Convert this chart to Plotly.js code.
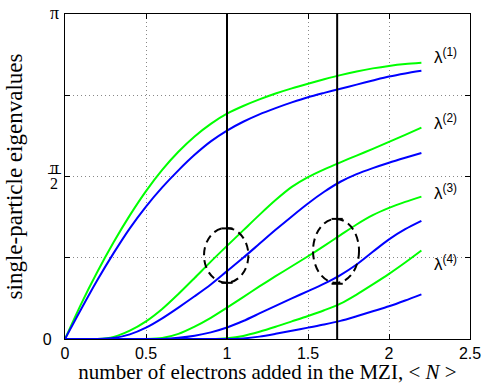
<!DOCTYPE html>
<html>
<head>
<meta charset="utf-8">
<script src="https://cdn.plot.ly/plotly-3.0.1.min.js"></script>
<style>html,body{margin:0;padding:0;background:#fff;}</style>
</head>
<body>
<div id="chart" style="width:490px;height:384px;"></div>
<script>
// x grid (number of electrons added)
const xGrid = [0,0.1,0.2,0.3,0.4,0.5,0.6,0.7,0.8,0.9,1.0,1.1,1.2,1.3,1.4,1.5,1.6,1.7,1.8,1.9,2.0,2.1,2.2];
// green curves
const green1 = [0,0.34,0.65,0.935,1.195,1.43,1.635,1.81,1.958,2.08,2.178,2.252,2.316,2.373,2.423,2.468,2.511,2.551,2.586,2.616,2.64,2.658,2.67];
const green2 = [0,0,0,0.02,0.08,0.17,0.29,0.435,0.59,0.748,0.90,1.05,1.20,1.343,1.47,1.565,1.64,1.708,1.773,1.838,1.905,1.973,2.043];
const green3 = [0,0,0,0,0,0,0.01,0.05,0.12,0.205,0.303,0.405,0.508,0.607,0.703,0.80,0.90,1.004,1.107,1.197,1.267,1.325,1.376];
const green4 = [0,0,0,0,0,0,0,0,0,0,0.008,0.03,0.07,0.118,0.17,0.222,0.278,0.342,0.43,0.528,0.63,0.74,0.856];
// blue curves
const blue1 = [0,0.29,0.57,0.83,1.07,1.28,1.465,1.63,1.78,1.91,2.015,2.10,2.172,2.232,2.287,2.337,2.379,2.419,2.459,2.499,2.537,2.567,2.592];
const blue2 = [0,0,0,0.01,0.045,0.11,0.2,0.304,0.413,0.527,0.656,0.785,0.92,1.055,1.185,1.31,1.423,1.52,1.594,1.652,1.704,1.752,1.798];
const blue3 = [0,0,0,0,0,0,0.001,0.011,0.031,0.064,0.111,0.174,0.247,0.321,0.393,0.463,0.535,0.618,0.72,0.843,0.963,1.061,1.141];
const blue4 = [0,0,0,0,0,0,0,0,0,0,0,0.006,0.023,0.05,0.08,0.11,0.14,0.175,0.22,0.268,0.316,0.372,0.432];
// curve labels
const labelText = ['λ<sup>(1)</sup>','λ<sup>(2)</sup>','λ<sup>(3)</sup>','λ<sup>(4)</sup>'];
const labelY = [2.74, 2.10, 1.42, 0.73];
const labelX = 2.265;
// vertical marker lines
const markerX = [1.0, 1.68];
const markerYRange = [0, Math.PI];
// caps on marker lines
const capX = [1.0, 1.0, 1.68, 1.68];
const capY = [1.069, 0.543, 1.161, 0.534];
// dashed ellipses
const ellCx = [0.995, 1.673];
const ellCy = [0.809, 0.852];
const ellRx = [0.137, 0.142];
const ellRy = [0.265, 0.309];
// ticks
const xTickVals = [0,0.5,1,1.5,2,2.5];
const xTickText = ['0','0.5','1','1.5','2','2.5'];
const yTickVals = [0];
const yTickText = ['0&nbsp;&nbsp;'];
const yMinorVals = [Math.PI/4, Math.PI/2, 3*Math.PI/4];
// pi-based y tick labels drawn as text
const piTopLabel = 'π';
const piHalfNum = 'π';
const piHalfBar = '—';
const piHalfDen = '2';

const GREEN = '#00ff00', BLUE = '#0000ff';
const traces = [];
[green1, green2, green3, green4].forEach(ys => traces.push({
  x: xGrid, y: ys, type: 'scatter', mode: 'lines',
  line: {color: GREEN, width: 2, shape: 'spline', smoothing: 0.8},
  hoverinfo: 'skip', showlegend: false
}));
[blue1, blue2, blue3, blue4].forEach(ys => traces.push({
  x: xGrid, y: ys, type: 'scatter', mode: 'lines',
  line: {color: BLUE, width: 2, shape: 'spline', smoothing: 0.8},
  hoverinfo: 'skip', showlegend: false
}));
markerX.forEach(xv => traces.push({
  x: [xv, xv], y: markerYRange, type: 'scatter', mode: 'lines',
  line: {color: 'black', width: 2}, hoverinfo: 'skip', showlegend: false
}));
traces.push({
  x: capX, y: capY, type: 'scatter', mode: 'markers',
  marker: {symbol: 'line-ew', size: 8, line: {color: 'black', width: 2}},
  hoverinfo: 'skip', showlegend: false
});

const shapes = ellCx.map((cx, i) => ({
  type: 'circle', xref: 'x', yref: 'y',
  x0: cx - ellRx[i], x1: cx + ellRx[i], y0: ellCy[i] - ellRy[i], y1: ellCy[i] + ellRy[i],
  line: {color: 'black', width: 2, dash: '8px,5px'}
}));

const annotations = labelText.map((t, i) => ({
  x: labelX, y: labelY[i], xref: 'x', yref: 'y', text: t, showarrow: false,
  xanchor: 'left', yanchor: 'middle',
  font: {family: 'Liberation Sans, Arial, sans-serif', size: 17, color: 'black'}
}));
const piFont = {family: 'Liberation Serif, serif', size: 18, color: 'black'};
annotations.push({x: -0.026, y: 1.0, xref: 'paper', yref: 'paper', text: piTopLabel, showarrow: false,
  xanchor: 'center', yanchor: 'middle', yshift: 1, font: piFont});
annotations.push({x: -0.026, y: 0.527, xref: 'paper', yref: 'paper', text: piHalfNum, showarrow: false,
  xanchor: 'center', yanchor: 'middle', font: piFont});
annotations.push({x: -0.026, y: 0.511, xref: 'paper', yref: 'paper', text: piHalfBar, showarrow: false,
  xanchor: 'center', yanchor: 'middle',
  font: {family: 'Liberation Sans, Arial, sans-serif', size: 13, color: 'black'}});
annotations.push({x: -0.026, y: 0.478, xref: 'paper', yref: 'paper', text: piHalfDen, showarrow: false,
  xanchor: 'center', yanchor: 'middle',
  font: {family: 'Liberation Serif, serif', size: 16, color: 'black'}});

const gridStyle = {gridcolor: '#888', gridwidth: 1, griddash: '1px,3px'};

const layout = {
  width: 490, height: 384,
  margin: {l: 65, r: 20, t: 14, b: 45},
  paper_bgcolor: 'white', plot_bgcolor: 'white',
  showlegend: false,
  xaxis: Object.assign({
    range: [0, 2.5], tickvals: xTickVals, ticktext: xTickText,
    ticks: 'inside', ticklen: 5, tickwidth: 1, tickcolor: 'black',
    showline: true, linecolor: 'black', linewidth: 1.2, mirror: 'ticks',
    showgrid: true, zeroline: false, layer: 'below traces',
    tickfont: {family: 'Liberation Sans, Arial, sans-serif', size: 16, color: 'black'},
    title: {text: 'number of electrons added in the MZI, &lt; <i>N</i> &gt;', standoff: 8,
      font: {family: 'Liberation Serif, serif', size: 21, color: 'black'}}
  }, gridStyle),
  yaxis: Object.assign({
    range: [0, Math.PI], tickvals: yTickVals, ticktext: yTickText,
    ticks: 'inside', ticklen: 5, tickwidth: 1, tickcolor: 'black',
    showline: true, linecolor: 'black', linewidth: 1.2, mirror: 'ticks',
    showgrid: true, zeroline: false, layer: 'below traces',
    minor: Object.assign({tickvals: yMinorVals, ticks: 'inside', ticklen: 5, tickwidth: 1,
      tickcolor: 'black', showgrid: true}, gridStyle),
    tickfont: {family: 'Liberation Sans, Arial, sans-serif', size: 16, color: 'black'},
    title: {text: 'single-particle eigenvalues', standoff: 13,
      font: {family: 'Liberation Serif, serif', size: 23, color: 'black'}}
  }, gridStyle),
  shapes: shapes,
  annotations: annotations
};

Plotly.newPlot('chart', traces, layout, {displayModeBar: false, staticPlot: true});
</script>
</body>
</html>
